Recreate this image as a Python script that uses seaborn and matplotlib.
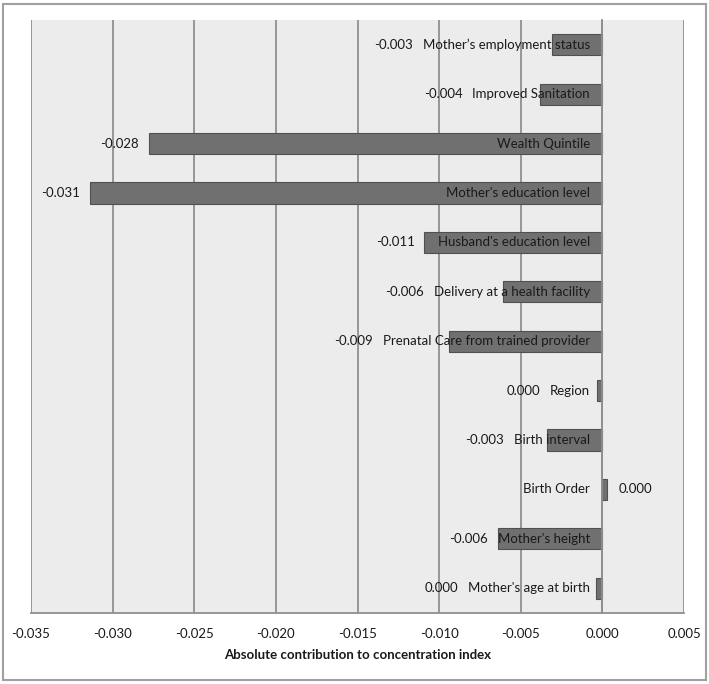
import matplotlib
matplotlib.use("Agg")
import matplotlib.pyplot as plt
import seaborn as sns
import pandas as pd
import numpy as np
from matplotlib.patches import Rectangle

categories = [
    "Mother\u2019s employment status",
    "Improved Sanitation",
    "Wealth Quintile",
    "Mother's education level",
    "Husband's education level",
    "Delivery at a health facility",
    "Prenatal Care from trained provider",
    "Region",
    "Birth interval",
    "Birth Order",
    "Mother's height",
    "Mother's age at birth",
]
values = [-0.0031, -0.0038, -0.0278, -0.0314, -0.0109, -0.0061, -0.0094,
          -0.0003, -0.0034, 0.0003, -0.0064, -0.0004]
xticks = [-0.035, -0.030, -0.025, -0.020, -0.015, -0.010, -0.005, 0.000, 0.005]
xlabel = "Absolute contribution to concentration index"

sns.set_theme(style="white")
plt.rcParams['font.family'] = ['Lato', 'DejaVu Sans']

df = pd.DataFrame({"cat": categories, "val": values})

fig = plt.figure(figsize=(7.09, 6.84), dpi=100)
fig.patch.set_facecolor("white")
ax = fig.add_axes([31/709, (684-613)/684, (684-31)/709, (613-20)/684])
ax.set_facecolor("#ececec")

sns.barplot(data=df, y="cat", x="val", orient="h", color="#707070",
            saturation=1, width=0.43, edgecolor="#505050", linewidth=0.8, ax=ax)
ax.set_xlim(-0.035, 0.005)
ax.set_ylim(len(categories) - 0.5, -0.5)

ax.set_xticks(xticks)
ax.set_xticklabels([f"{t:.3f}" for t in xticks], fontsize=9.5, color="#1a1a1a")
ax.grid(axis="x", color="#8f8f8f", linewidth=1.3)
ax.set_axisbelow(True)
ax.set_ylabel("")
ax.set_xlabel(xlabel, fontsize=9.5, fontweight="bold", color="#1a1a1a", labelpad=6)

for s in ["top", "right"]:
    ax.spines[s].set_visible(False)
ax.spines["bottom"].set_color("#8f8f8f")
ax.spines["bottom"].set_linewidth(1.3)
ax.spines["left"].set_position(("data", 0))
ax.spines["left"].set_color("#8f8f8f")
ax.spines["left"].set_linewidth(1.3)
ax.set_yticks(np.arange(-0.5, len(categories), 1.0))
ax.set_yticklabels([])
ax.tick_params(axis="y", length=4, width=1.0, color="#8f8f8f", direction="out", pad=0)
ax.tick_params(axis="x", length=5, width=1.3, color="#8f8f8f", direction="out", pad=6)

# category labels inside plot at zero line
fig.canvas.draw()
renderer = fig.canvas.get_renderer()
inv = ax.transData.inverted()
for i, (c, v) in enumerate(zip(categories, values)):
    t = ax.annotate(c, xy=(0, i), xytext=(-9, 0), textcoords="offset points",
                    ha="right", va="center", fontsize=9.5, color="#1a1a1a")
    bb = t.get_window_extent(renderer)
    tleft = inv.transform((bb.x0, bb.y0))[0]
    lab = f"{v:.3f}"
    if lab == "-0.000":
        lab = "0.000"
    if v > 0:
        ax.annotate(lab, xy=(v, i), xytext=(8, 0), textcoords="offset points",
                    ha="left", va="center", fontsize=9.5, color="#1a1a1a")
    else:
        ax.annotate(lab, xy=(min(v, tleft), i), xytext=(-7, 0), textcoords="offset points",
                    ha="right", va="center", fontsize=9.5, color="#1a1a1a")

# figure frame
fig.patches.append(Rectangle((3/709, 4/684), 703/709, 676/684, transform=fig.transFigure,
                             fill=False, edgecolor="#a0a0a0", linewidth=1.5))

fig.savefig("out.png", dpi=100)
